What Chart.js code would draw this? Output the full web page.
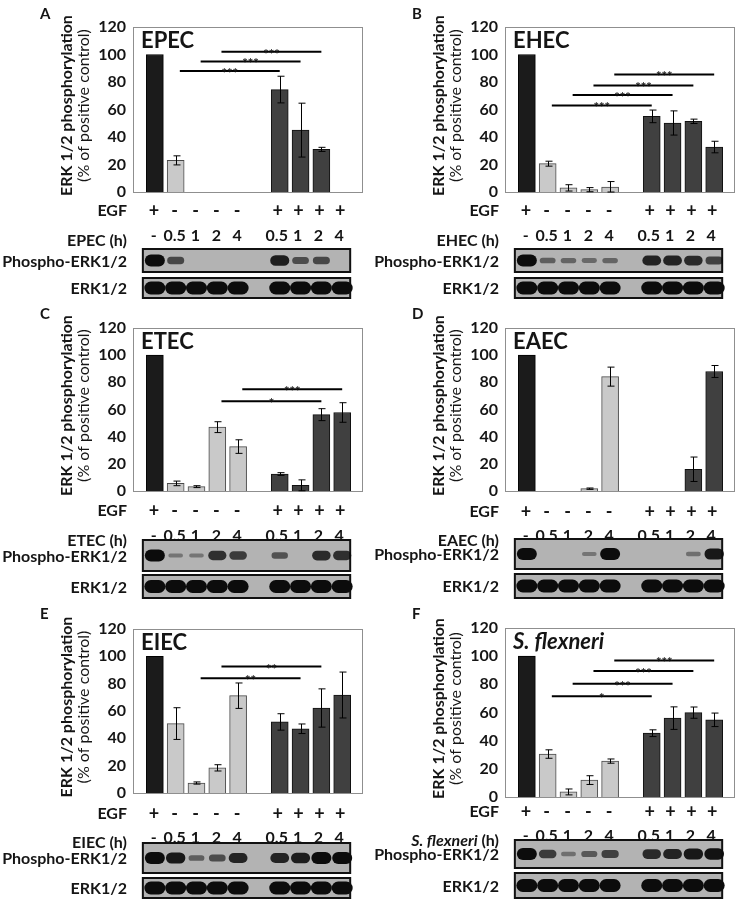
<!DOCTYPE html>
<html>
<head>
<meta charset="utf-8">
<script src="https://cdn.jsdelivr.net/npm/chart.js@4.4.1/dist/chart.umd.min.js"></script>
<style>
  html, body { margin: 0; padding: 0; background: #fff; }
  #fig { position: relative; width: 743px; height: 906px; overflow: hidden; }
  #fig canvas { position: absolute; }
</style>
</head>
<body>
<div id="fig"></div>
<script>
// lane positions on the x axis (5 = empty gap between the two groups)
const lanes = [0, 1, 2, 3, 4, 6, 7, 8, 9];
const egfRow = ['+', '-', '-', '-', '-', '+', '+', '+', '+'];
const timeRow = ['-', '0.5', '1', '2', '4', '0.5', '1', '2', '4'];
const groups = ['ctrl', 'inf', 'inf', 'inf', 'inf', 'egf', 'egf', 'egf', 'egf'];
const yTicks = [0, 20, 40, 60, 80, 100, 120];

// [from bar, to bar, level, stars]
const epecValues = [100, 23, 0, 0, 0, 74.5, 45, 31, 0];
const epecErrors = [0, 3.3, 0, 0, 0, 9.7, 19.6, 1.5, 0];
const epecSig = [[1, 5, 88, '***'], [2, 6, 95, '***'], [3, 7, 102, '***']];
const epecPhospho = [1, 0.5, 0, 0, 0, 0.85, 0.45, 0.5, 0];

const ehecValues = [100, 20.6, 3, 1.7, 3.6, 55, 50.2, 51.4, 32.7];
const ehecErrors = [0, 1.8, 2.3, 1.5, 4, 4.6, 8.8, 1.6, 4.2];
const ehecSig = [[1, 5, 63, '***'], [2, 6, 70.5, '***'], [3, 7, 77.5, '***'], [4, 8, 85.5, '***']];
const ehecPhospho = [1, 0.3, 0.25, 0.2, 0.25, 0.8, 0.8, 0.75, 0.55];

const etecValues = [100, 5.6, 3.2, 47, 32.7, 12.5, 4.2, 56.2, 57.8];
const etecErrors = [0, 1.7, 0.7, 4, 5, 1, 4, 4.4, 7.2];
const etecSig = [[3, 7, 66, '*'], [4, 8, 75, '***']];
const etecPhospho = [1, 0.1, 0.1, 0.7, 0.6, 0.4, 0, 0.75, 0.7];

const eaecValues = [100, 0, 0, 1.7, 84.2, 0, 0, 16, 88];
const eaecErrors = [0, 0, 0, 0.5, 7, 0, 0, 9, 4.4];
const eaecSig = [];
const eaecPhospho = [1, 0, 0, 0.1, 1, 0, 0, 0.15, 0.9];

const eiecValues = [100, 50.8, 7.3, 18.4, 71.2, 52, 47, 62.2, 71.7];
const eiecErrors = [0, 11.6, 0.8, 2.3, 9.3, 6, 3.5, 14, 16.8];
const eiecSig = [[2, 6, 84, '**'], [3, 7, 92.5, '**']];
const eiecPhospho = [1, 0.9, 0.3, 0.45, 0.8, 0.8, 0.85, 1, 1];

const sflexValues = [100, 30.5, 3.6, 12, 25.5, 45.3, 56, 59.9, 54.8];
const sflexErrors = [0, 3, 2.1, 3.1, 1.5, 2.4, 8, 4, 4.8];
const sflexSig = [[1, 5, 71.5, '*'], [2, 6, 80.5, '***'], [3, 7, 89.5, '***'], [4, 8, 97, '***']];
const sflexPhospho = [1, 0.6, 0.15, 0.35, 0.55, 0.75, 0.8, 0.9, 0.95];

const panels = [
  { id: 'A', name: 'EPEC', italic: false, values: epecValues, errors: epecErrors, sig: epecSig, phospho: epecPhospho,
    left: 0, top: 0, box: [27, 192], egfY: 211, timeY: 236, pBlot: [249, 272], eBlot: [278, 298] },
  { id: 'B', name: 'EHEC', italic: false, values: ehecValues, errors: ehecErrors, sig: ehecSig, phospho: ehecPhospho,
    left: 372, top: 0, box: [27, 192], egfY: 211, timeY: 236, pBlot: [249, 272], eBlot: [278, 298] },
  { id: 'C', name: 'ETEC', italic: false, values: etecValues, errors: etecErrors, sig: etecSig, phospho: etecPhospho,
    left: 0, top: 300, box: [28, 191], egfY: 211, timeY: 236, pBlot: [240, 271], eBlot: [275, 298] },
  { id: 'D', name: 'EAEC', italic: false, values: eaecValues, errors: eaecErrors, sig: eaecSig, phospho: eaecPhospho,
    left: 372, top: 300, box: [28, 191], egfY: 212, timeY: 236, pBlot: [239, 269], eBlot: [274, 298] },
  { id: 'E', name: 'EIEC', italic: false, values: eiecValues, errors: eiecErrors, sig: eiecSig, phospho: eiecPhospho,
    left: 0, top: 600, box: [29, 193], egfY: 214, timeY: 238, pBlot: [243, 273], eBlot: [278, 298] },
  { id: 'F', name: 'S. flexneri', italic: true, values: sflexValues, errors: sflexErrors, sig: sflexSig, phospho: sflexPhospho,
    left: 372, top: 600, box: [28, 197], egfY: 212, timeY: 236, pBlot: [240, 268], eBlot: [273, 298] }
];

const FONT = 'Lato, "Open Sans", sans-serif';
const INK = '#151515';
const barFill = { ctrl: '#1b1b1b', inf: '#c9c9c9', egf: '#404040' };
const barEdge = { ctrl: '#000', inf: '#4a4a4a', egf: '#111' };

function roundBand(ctx, cx, cy, w, h) {
  const r = Math.min(h / 2, w / 2);
  ctx.beginPath();
  ctx.moveTo(cx - w / 2 + r, cy - h / 2);
  ctx.lineTo(cx + w / 2 - r, cy - h / 2);
  ctx.arc(cx + w / 2 - r, cy, h / 2, -Math.PI / 2, Math.PI / 2);
  ctx.lineTo(cx - w / 2 + r, cy + h / 2);
  ctx.arc(cx - w / 2 + r, cy, h / 2, Math.PI / 2, Math.PI * 1.5);
  ctx.closePath();
  ctx.fill();
}

function strainText(ctx, p, x, y, size, suffix, align) {
  // strain name (italic for S. flexneri) followed by an upright suffix
  const nameFont = (p.italic ? 'italic ' : '') + 'bold ' + size + 'px ' + FONT;
  const sufFont = 'bold ' + size + 'px ' + FONT;
  ctx.font = nameFont;
  const w1 = ctx.measureText(p.name).width;
  ctx.font = sufFont;
  const w2 = suffix ? ctx.measureText(suffix).width : 0;
  const x0 = align === 'right' ? x - w1 - w2 : x;
  ctx.textAlign = 'left';
  ctx.font = nameFont;
  ctx.fillText(p.name, x0, y);
  if (suffix) {
    ctx.font = sufFont;
    ctx.fillText(suffix, x0 + w1, y);
  }
}

function makeDecor(p) {
  return {
    id: 'decor' + p.id,
    beforeDatasetsDraw(chart) {
      const { ctx, chartArea: a } = chart;
      ctx.save();
      ctx.strokeStyle = '#8f8f8f';
      ctx.lineWidth = 1;
      ctx.strokeRect(a.left + 0.5, a.top + 0.5, a.right - a.left - 1, a.bottom - a.top);
      ctx.restore();
    },
    afterDatasetsDraw(chart) {
      const { ctx } = chart;
      const xs = chart.scales.x, ys = chart.scales.y;
      ctx.save();
      // error bars
      ctx.strokeStyle = '#000';
      ctx.lineWidth = 1;
      p.values.forEach((v, i) => {
        const e = p.errors[i];
        if (!e) return;
        const cx = Math.round(xs.getPixelForValue(lanes[i])) + 0.5;
        const t = ys.getPixelForValue(v + e), b = ys.getPixelForValue(Math.max(v - e, 0));
        ctx.beginPath();
        ctx.moveTo(cx, t); ctx.lineTo(cx, b);
        ctx.moveTo(cx - 3, t); ctx.lineTo(cx + 4, t);
        ctx.moveTo(cx - 3, b); ctx.lineTo(cx + 4, b);
        ctx.stroke();
      });
      // significance lines
      p.sig.forEach(([from, to, level, stars]) => {
        const x1 = xs.getPixelForValue(lanes[from] + 0.2);
        const x2 = xs.getPixelForValue(lanes[to]);
        const yy = ys.getPixelForValue(level);
        ctx.lineWidth = 2;
        ctx.beginPath();
        ctx.moveTo(x1, yy); ctx.lineTo(x2, yy);
        ctx.stroke();
        ctx.fillStyle = INK;
        ctx.font = 'bold 13px ' + FONT;
        ctx.textAlign = 'center';
        ctx.textBaseline = 'alphabetic';
        ctx.fillText(stars, (x1 + x2) / 2, yy + 7);
      });
      ctx.restore();
    },
    afterDraw(chart) {
      const { ctx, chartArea: a } = chart;
      const xs = chart.scales.x;
      ctx.save();
      ctx.fillStyle = INK;
      ctx.textBaseline = 'alphabetic';

      // panel letter
      ctx.font = 'bold 15px ' + FONT;
      ctx.textAlign = 'left';
      ctx.fillText(p.id, 40, 19);

      // strain title inside plot
      strainText(ctx, p, a.left + 8, a.top + 21, 22, '', 'left');

      // y axis title, two lines
      const cy = (a.top + a.bottom) / 2 - 4;
      ctx.save();
      ctx.translate(0, cy);
      ctx.rotate(-Math.PI / 2);
      ctx.textAlign = 'center';
      ctx.textBaseline = 'middle';
      ctx.font = 'bold 16px ' + FONT;
      ctx.fillText('ERK 1/2 phosphorylation', 0, 67);
      ctx.font = '16px ' + FONT;
      ctx.fillText('(% of positive control)', 0, 84);
      ctx.restore();

      // EGF and time rows
      ctx.textBaseline = 'middle';
      ctx.font = 'bold 16px ' + FONT;
      ctx.textAlign = 'right';
      ctx.fillText('EGF', 127, p.egfY);
      strainText(ctx, p, 127, p.timeY + 5, 16, ' (h)', 'right');
      ctx.textBaseline = 'middle';
      ctx.textAlign = 'center';
      ctx.font = 'bold 18px ' + FONT;
      egfRow.forEach((s, i) => ctx.fillText(s, xs.getPixelForValue(lanes[i]) - (i > 4 ? 2 : 1), p.egfY));
      ctx.font = 'bold 16px ' + FONT;
      timeRow.forEach((s, i) => ctx.fillText(s, xs.getPixelForValue(lanes[i]) - (i > 4 ? 3 : 1), p.timeY));

      // blots
      ctx.font = 'bold 16px ' + FONT;
      ctx.textAlign = 'right';
      ctx.fillText('Phospho-ERK1/2', 127, (p.pBlot[0] + p.pBlot[1]) / 2 + 1);
      ctx.fillText('ERK1/2', 127, (p.eBlot[0] + p.eBlot[1]) / 2 + 1);

      const bl = xs.getPixelForValue(lanes[0]) - 12;
      const br = xs.getPixelForValue(lanes[8]) + 8;
      [p.pBlot, p.eBlot].forEach((bb, k) => {
        ctx.fillStyle = '#b3b3b3';
        ctx.fillRect(bl, bb[0], br - bl, bb[1] - bb[0]);
        ctx.strokeStyle = '#111';
        ctx.lineWidth = 2;
        ctx.strokeRect(bl, bb[0], br - bl, bb[1] - bb[0]);
        const mid = (bb[0] + bb[1]) / 2;
        lanes.forEach((ln, i) => {
          const v = k === 0 ? p.phospho[i] : 1;
          if (!v) return;
          const cx = xs.getPixelForValue(ln);
          ctx.globalAlpha = 0.3 + 0.7 * v;
          ctx.fillStyle = '#0c0c0c';
          if (k === 0) {
            roundBand(ctx, cx, mid, 14 + 6 * v, 3 + 9 * v);
          } else {
            roundBand(ctx, cx, mid, 21, 13);
          }
          ctx.globalAlpha = 1;
        });
      });
      ctx.restore();
    }
  };
}

const fig = document.getElementById('fig');
panels.forEach(p => {
  const cv = document.createElement('canvas');
  cv.width = 372; cv.height = 306;
  cv.style.left = p.left + 'px';
  cv.style.top = p.top + 'px';
  fig.appendChild(cv);

  new Chart(cv, {
    type: 'bar',
    data: {
      datasets: [{
        data: p.values.map((v, i) => ({ x: lanes[i], y: v })),
        backgroundColor: groups.map(g => barFill[g]),
        borderColor: groups.map(g => barEdge[g]),
        borderWidth: 1,
        borderSkipped: 'bottom',
        barThickness: 17
      }]
    },
    options: {
      responsive: false,
      animation: false,
      devicePixelRatio: 1,
      layout: { padding: { left: 0, top: p.box[0], right: 9, bottom: 306 - p.box[1] } },
      plugins: { legend: { display: false }, tooltip: { enabled: false } },
      scales: {
        x: { type: 'linear', min: -1.05, max: 10, offset: false, grid: { offset: false }, display: false },
        y: {
          min: 0, max: 120,
          afterFit: s => { s.width = 133; },
          afterBuildTicks: s => { s.ticks = yTicks.map(v => ({ value: v })); },
          grid: { display: false, drawTicks: false },
          border: { display: false },
          ticks: { padding: 7, color: INK, font: { family: FONT, size: 16, weight: 'bold' } }
        }
      }
    },
    plugins: [makeDecor(p)]
  });
});
</script>
</body>
</html>
